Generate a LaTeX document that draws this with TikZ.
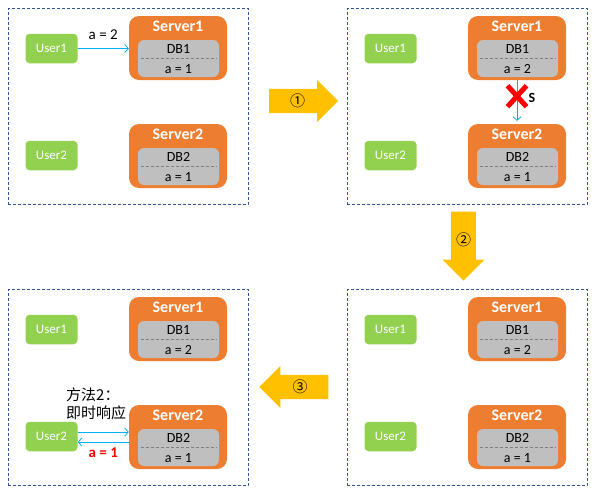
\documentclass[tikz,border=0pt]{standalone}
\usepackage{fontspec}
\setmainfont{Carlito}
\newfontfamily\cjk{Noto Sans CJK SC}
\usetikzlibrary{positioning,arrows.meta,shapes.arrows,shapes.misc}

\definecolor{srvorange}{HTML}{ED7D31}
\definecolor{usrgreen}{HTML}{92D050}
\definecolor{dbgray}{HTML}{BFBFBF}
\definecolor{sepgray}{HTML}{7F7F7F}
\definecolor{linkblue}{HTML}{00B0F0}
\definecolor{stageblue}{HTML}{2F5597}
\definecolor{stepyellow}{HTML}{FFC000}

\newcommand{\stage}[4]{%
 \begin{scope}[shift={(#2,#3)}]
 \node (#1) [stagebox] at (128,106.25) {};
 \node (#1u1) [user] at (51.5,48.5) {User1};
 \node (#1u2) [user] at (51.5,155.5) {User2};
 \node (#1s1) [server] at (178,48) {};
 \node (#1s2) [server] at (178,156) {};
 \node (#1t1) [title] at ([yshift=-11pt]#1s1.north) {Server1};
 \node (#1t2) [title] at ([yshift=-11pt]#1s2.north) {Server2};
 \node (#1d1) [db] at (178.5,58.5) {};
 \node (#1d2) [db] at (178.5,166.5) {};
 \node (#1n1) [dbtext] at ([yshift=9.5pt]#1d1.center) {DB1};
 \node (#1n2) [dbtext] at ([yshift=9.5pt]#1d2.center) {DB2};
 \node (#1v1) [dbtext] at ([yshift=-10.5pt]#1d1.center) {a = #4};
 \node (#1v2) [dbtext] at ([yshift=-10.5pt]#1d2.center) {a = 1};
 \draw [sep] ([xshift=3pt]#1d1.west) -- ([xshift=-2pt]#1d1.east);
 \draw [sep] ([xshift=3pt]#1d2.west) -- ([xshift=-2pt]#1d2.east);
 \end{scope}}

\begin{document}
\begin{tikzpicture}[x=1pt,y=-1pt,
 stagebox/.style={draw=stageblue, line width=0.8pt, dash pattern=on 3pt off 2pt, minimum width=240pt, minimum height=196.5pt},
 user/.style={fill=usrgreen, rounded corners=4pt, minimum width=52pt, minimum height=29.5pt, text=white, font=\fontsize{13}{15}\selectfont},
 server/.style={fill=srvorange, rounded corners=10pt, minimum width=98pt, minimum height=64pt},
 title/.style={text=white, font=\bfseries\fontsize{16}{18}\selectfont, inner sep=0pt},
 db/.style={fill=dbgray, rounded corners=6pt, minimum width=81pt, minimum height=37pt},
 dbtext/.style={font=\fontsize{14}{16}\selectfont, inner sep=0pt},
 sep/.style={draw=sepgray, line width=0.5pt, dash pattern=on 3pt off 2pt},
 link/.style={draw=linkblue, line width=0.8pt, -{Straight Barb[length=3.5pt,width=8pt]}},
 bigarrow/.style={single arrow, fill=stepyellow, minimum height=69pt, minimum width=42pt, single arrow head extend=8.5pt, inner sep=4.5pt, font=\cjk\fontsize{15}{15}\selectfont}]
\useasboundingbox (0,0) rectangle (595,496);

\stage{A}{0}{0}{1}
\stage{B}{339}{0}{2}
\stage{C}{339}{281}{2}
\stage{D}{0}{281}{2}

\draw [link] (Au1) -- node[above=8pt, font=\fontsize{15}{17}\selectfont, inner sep=0pt]{a = 2} (Au1 -| As1.west);

\draw [link, shorten >=3pt] (Bs1) -- (Bs2);
\node (Bx) [cross out, draw=red, line width=5pt, minimum width=14pt, minimum height=16pt, inner sep=0pt] at ([yshift=-16pt]Bs1.south) {};
\node (Bsig) [right=2pt of Bx, yshift=-2pt, inner sep=0pt, font=\bfseries\fontsize{14}{16}\selectfont] {S};

\draw [link] ([yshift=4.5pt]Du2.east) -- ([yshift=4.5pt]Du2.east -| Ds2.west);
\draw [link] ([yshift=-5.5pt]Du2.east -| Ds2.west) -- node (Dval) [below=5pt, inner sep=0pt, text=red, font=\bfseries\fontsize{15}{17}\selectfont]{a = 1} ([yshift=-5.5pt]Du2.east);
\node (Dnote) [anchor=west, align=left, inner sep=0pt, font=\cjk\fontsize{15}{18}\selectfont] at (66,404) {方法2：\\即时响应};

\node (go1) [bigarrow] at (297.5,101) {①};
\node (go2) [bigarrow, shape border rotate=270] at (463.5,240) {②};
\node (go3) [bigarrow, shape border rotate=180] at (300,387) {③};
\end{tikzpicture}
\end{document}
